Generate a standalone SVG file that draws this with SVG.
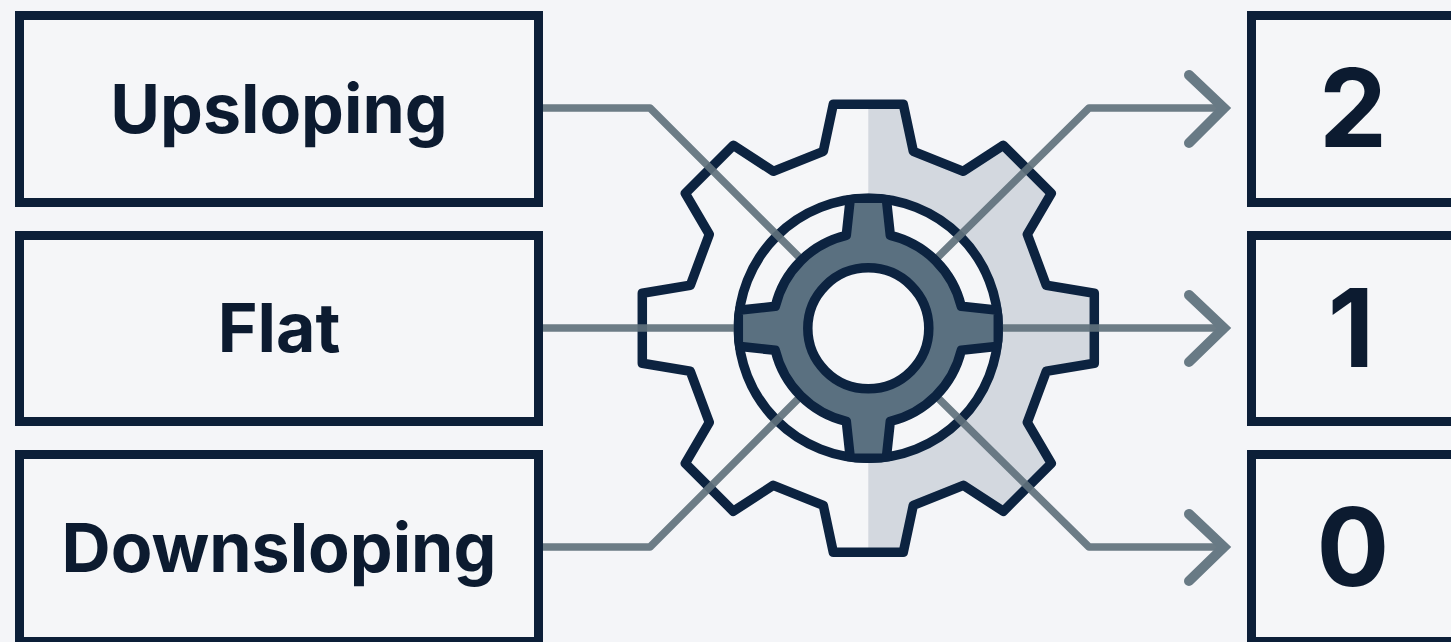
<svg xmlns="http://www.w3.org/2000/svg" width="1451" height="642" viewBox="0 0 1451 642">
<style>
.box{fill:#f5f6f8;stroke:#0c1f38;stroke-width:9}
.lbl{font-family:Inter,"Liberation Sans",sans-serif;font-weight:700;font-size:68px;fill:#0c1b30;text-anchor:middle}
.num{font-size:108px}
.ln{fill:none;stroke:#5f717c;stroke-width:7.500;stroke-opacity:.92;stroke-linejoin:round}
.ah{fill:none;stroke:#687a85;stroke-width:10;stroke-linecap:round;stroke-linejoin:miter}
.gs{stroke:#0c2340;stroke-width:9.500;stroke-linejoin:round}
</style>
<defs>
<path id="gearshape" d="M-35-224H35L45-177 95-157 135-183 183-135 159-94 178-43 226-35V35L178 43 159 94 183 135 135 183 95 157 45 177 35 224H-35L-45 177-95 157-135 183-183 135-159 94-178 43-226 35V-35L-178-43-159-94-183-135-135-183-95-157-45-177Z"/>
<clipPath id="rh"><rect x="0" y="-240" width="240" height="480"/></clipPath>
<clipPath id="ringclip"><circle r="134.700"/></clipPath>
</defs>
<rect width="1451" height="642" fill="#f4f5f8"/>
<g id="gear" transform="translate(868.3 328.3)">
<use href="#gearshape" fill="#f5f6f8"/>
<use href="#gearshape" fill="#d3d8df" clip-path="url(#rh)"/>
<use href="#gearshape" class="gs" fill="none"/>
<circle r="130" fill="#f5f6f8" class="gs"/>
</g>
<g id="connectors">
<path class="ln" d="M543 108H650L800 258"/>
<path class="ln" d="M543 328H735"/>
<path class="ln" d="M543 547H650L800 397"/>
<path class="ln" d="M937 258L1089 108H1224"/>
<path class="ln" d="M1002 328H1224"/>
<path class="ln" d="M937 397L1089 547H1224"/>
<path class="ah" d="M1189 75L1224 108 1189 143"/>
<path class="ah" d="M1189 295L1224 328 1189 362"/>
<path class="ah" d="M1189 514L1224 547 1189 581"/>
</g>
<g id="hub" transform="translate(868.3 328.3)">
<path class="gs" fill="#5a7080" clip-path="url(#ringclip)" d="M-18-130H18L22-93A96 96 0 0 1 93-22L130-18V18L93 22A96 96 0 0 1 22 93L18 130H-18L-22 93A96 96 0 0 1-93 22L-130 18V-18L-93-22A96 96 0 0 1-22-93Z"/>
<circle r="60.5" fill="#f5f6f8" class="gs"/>
</g>
<g id="n-upsloping"><rect class="box" x="19.500" y="15.500" width="519" height="187"/><text class="lbl" x="279" y="133">Upsloping</text></g>
<g id="n-flat"><rect class="box" x="19.500" y="235.500" width="519" height="186"/><text class="lbl" x="279" y="352">Flat</text></g>
<g id="n-downsloping"><rect class="box" x="19.500" y="454.500" width="519" height="187"/><text class="lbl" x="279" y="572">Downsloping</text></g>
<g id="n-2"><rect class="box" x="1251.500" y="15.500" width="230" height="187"/><text class="lbl num" x="1353" y="147">2</text></g>
<g id="n-1"><rect class="box" x="1251.500" y="235.500" width="230" height="186"/><text class="lbl num" x="1351" y="367">1</text></g>
<g id="n-0"><rect class="box" x="1251.500" y="454.500" width="230" height="187"/><text class="lbl num" x="1353" y="586">0</text></g>
</svg>
